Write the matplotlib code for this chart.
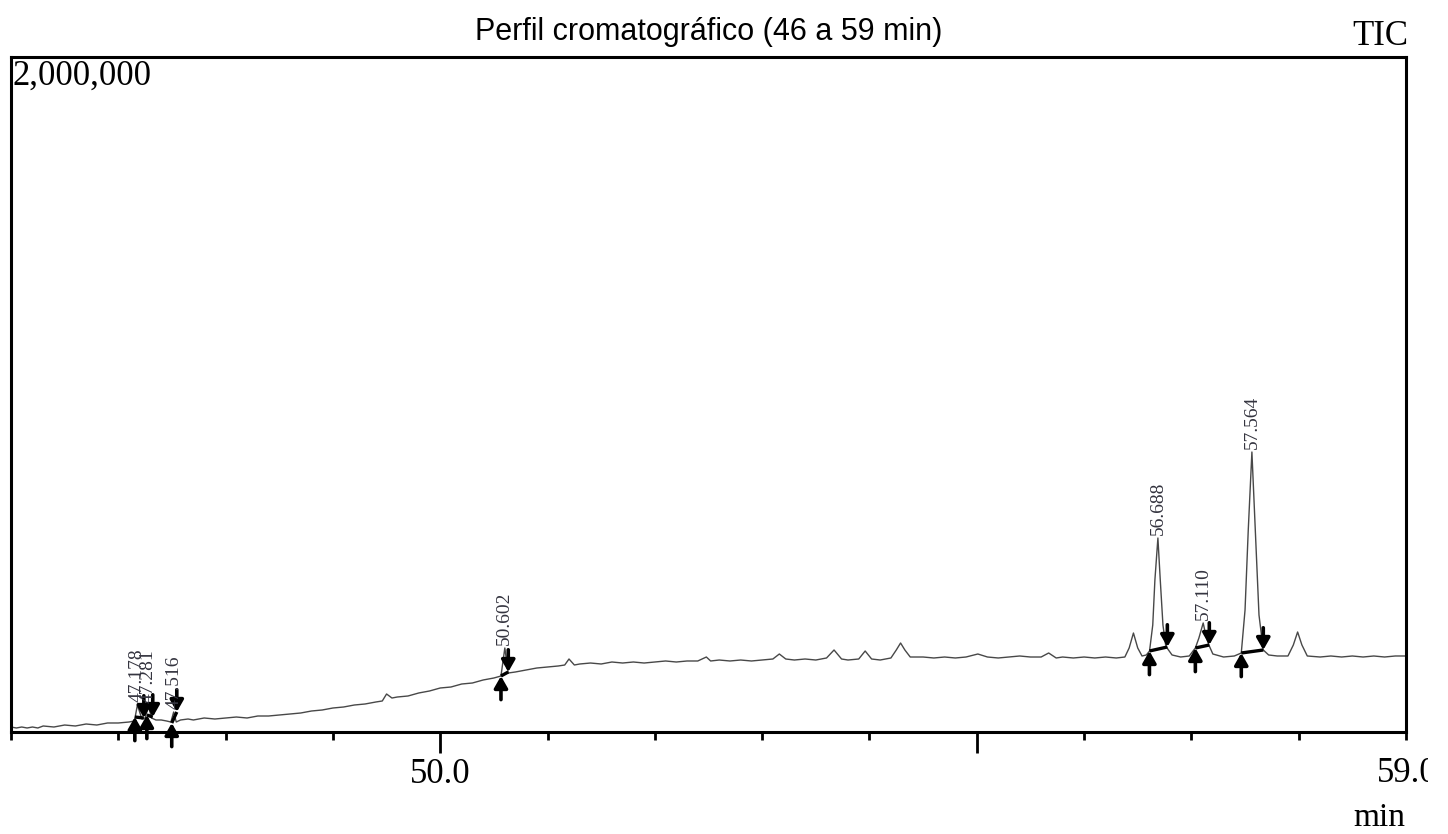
import matplotlib
matplotlib.use("Agg")
import matplotlib.pyplot as plt
from matplotlib.transforms import Bbox

# cromatograma TIC, tiempo (min) vs intensidad (cuentas)
rt = [46.00, 46.05, 46.10, 46.15, 46.20, 46.25, 46.30, 46.40, 46.50, 46.60,
      46.70, 46.80, 46.90, 47.00, 47.10, 47.15, 47.178, 47.22, 47.25, 47.281,
      47.31, 47.35, 47.40, 47.45, 47.49, 47.516, 47.54, 47.58, 47.65, 47.70,
      47.80, 47.90, 48.00, 48.10, 48.20, 48.30, 48.40, 48.50, 48.60, 48.70,
      48.80, 48.90, 49.00, 49.10, 49.20, 49.30, 49.40, 49.46, 49.50, 49.55,
      49.60, 49.70, 49.80, 49.90, 50.00, 50.10, 50.20, 50.30, 50.40, 50.50,
      50.566, 50.602, 50.634, 50.70, 50.80, 50.90, 51.00, 51.10, 51.16, 51.20,
      51.25, 51.30, 51.40, 51.50, 51.60, 51.70, 51.80, 51.90, 52.00, 52.10,
      52.20, 52.30, 52.40, 52.48, 52.52, 52.60, 52.70, 52.80, 52.90, 53.00,
      53.10, 53.16, 53.22, 53.30, 53.40, 53.50, 53.60, 53.67, 53.74, 53.80,
      53.90, 53.96, 54.02, 54.10, 54.20, 54.25, 54.29, 54.33, 54.38, 54.50,
      54.60, 54.70, 54.80, 54.90, 55.01, 55.10, 55.20, 55.30, 55.40, 55.50,
      55.60, 55.67, 55.74, 55.80, 55.90, 56.00, 56.10, 56.20, 56.30, 56.38,
      56.42, 56.46, 56.50, 56.54, 56.58, 56.61, 56.64, 56.66, 56.688, 56.71,
      56.735, 56.76, 56.78, 56.82, 56.90, 56.98, 57.037, 57.07, 57.11, 57.14,
      57.167, 57.20, 57.30, 57.40, 57.465, 57.50, 57.53, 57.564, 57.60, 57.63,
      57.67, 57.72, 57.80, 57.90, 57.95, 57.99, 58.03, 58.08, 58.20, 58.30,
      58.40, 58.50, 58.60, 58.70, 58.80, 58.90, 59.00]
tic = [14800, 11900, 14800, 11900, 14800, 11900, 17800, 14800, 20700, 17800,
       23700, 20700, 26700, 26700, 29600, 32600, 80000, 38500, 41500, 77000,
       41500, 35600, 35600, 32600, 29600, 59300, 29600, 35600, 38500, 35600,
       41500, 38500, 41500, 44400, 41500, 47400, 47400, 50400, 53300, 56300,
       62200, 65200, 71100, 74100, 80000, 83000, 88900, 91900, 112600, 100700,
       103700, 106700, 115600, 121500, 130400, 133300, 142200, 145200, 154100, 160000,
       165900, 248900, 174800, 177800, 183700, 189600, 192600, 195600, 198500, 216300,
       198500, 201500, 204400, 201500, 207400, 204400, 207400, 204400, 207400, 210400,
       207400, 210400, 210400, 222200, 210400, 213300, 210400, 213300, 210400, 213300,
       216300, 231100, 216300, 213300, 216300, 213300, 219300, 243000, 216300, 213300,
       216300, 240000, 216300, 213300, 219300, 243000, 263700, 243000, 222200, 222200,
       219300, 222200, 219300, 222200, 231100, 222200, 219300, 222200, 225200, 222200,
       222200, 234100, 219300, 222200, 219300, 222200, 219300, 222200, 219300, 222200,
       248900, 293300, 248900, 225200, 228200, 240000, 317000, 450400, 574800, 450400,
       317000, 257800, 245900, 228200, 222200, 225200, 248900, 278500, 323000, 278500,
       254800, 231100, 222200, 225200, 234100, 361500, 598500, 829600, 568900, 346700,
       243000, 228200, 225200, 225200, 257800, 296300, 257800, 225200, 222200, 225200,
       222200, 225200, 222200, 225200, 222200, 225200, 225200]

# picos integrados
peak_rt = [47.178, 47.281, 47.516, 50.602, 56.688, 57.110, 57.564]
peak_top = [80000, 77000, 59300, 248900, 574800, 323000, 829600]
peak_start = [47.154, 47.266, 47.498, 50.566, 56.609, 57.037, 57.465]
peak_end = [47.238, 47.321, 47.545, 50.634, 56.776, 57.167, 57.670]
start_level = [44400, 50400, 26700, 165900, 240000, 248900, 234100]
end_level = [41500, 44400, 59300, 177800, 251900, 257800, 243000]

W, H = 1448, 834
fig = plt.figure(figsize=(W / 100, H / 100), dpi=100)
ax = fig.add_axes([11 / W, (H - 732) / H, (1406 - 11) / W, (732 - 57) / H])

ax.plot(rt, tic, color="#484848", lw=1.0)
ax.set_xlim(46, 59)
ax.set_ylim(0, 2000000)

serif = "Liberation Serif"

# linea base y flechas de integracion
arrow = dict(arrowstyle="-|>,head_length=0.7,head_width=0.4", lw=2.6,
             color="black", mutation_scale=10, shrinkA=0, shrinkB=0)
for i in range(len(peak_rt)):
    ax.plot([peak_start[i], peak_end[i]], [start_level[i], end_level[i]],
            color="black", lw=2.4, solid_capstyle="butt")
    ax.annotate("", xy=(peak_start[i], start_level[i]), xytext=(0, -17),
                textcoords="offset points", arrowprops=arrow)
    ax.annotate("", xy=(peak_end[i], end_level[i]), xytext=(0, 16),
                textcoords="offset points", arrowprops=arrow)
    ax.annotate(f"{peak_rt[i]:.3f}", xy=(peak_rt[i], peak_top[i]), xytext=(0, 2),
                textcoords="offset points", rotation=90, ha="center", va="bottom",
                fontsize=14, family=serif, color="#34343f")

for s in ax.spines.values():
    s.set_linewidth(2.2)
ax.set_yticks([])
ax.set_xticks([50, 55])
ax.set_xticklabels(["50.0", ""])
ax.set_xticks([46, 47, 48, 49, 51, 52, 53, 54, 56, 57, 58, 59], minor=True)
ax.tick_params(axis="x", which="major", length=15, width=2, pad=4)
ax.tick_params(axis="x", which="minor", length=6, width=2)
for lab in ax.get_xticklabels():
    lab.set_fontfamily(serif)
    lab.set_fontsize(25)

ax.set_title("Perfil cromatográfico (46 a 59 min)", fontsize=22,
             family="Liberation Sans", pad=12)

fig.text(13 / W, 1 - 60 / H, "2,000,000", ha="left", va="top",
         fontsize=25, family=serif)
fig.text(1408 / W, 1 - 45 / H, "TIC", ha="right", va="baseline",
         fontsize=25, family=serif)
fig.text(1405 / W, 1 - 826 / H, "min", ha="right", va="baseline",
         fontsize=24, family=serif)
t59 = fig.text(1407 / W, 1 - 757 / H, "59.0", ha="center", va="top",
               fontsize=25, family=serif)
t59.set_clip_box(Bbox([[0, 0], [1428, H]]))
t59.set_clip_on(True)

fig.savefig("out.png", dpi=100)
